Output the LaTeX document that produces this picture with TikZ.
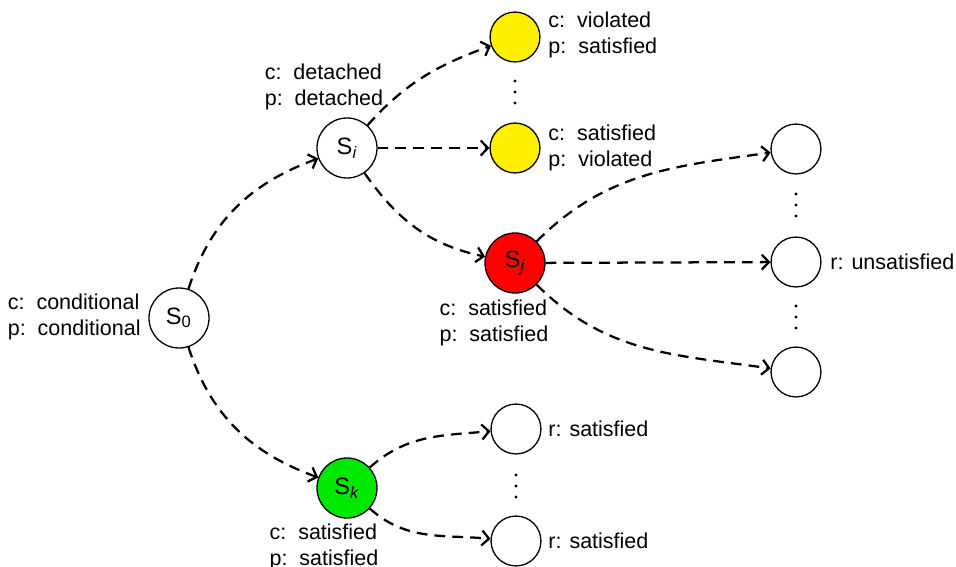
\documentclass[tikz,border=0pt]{standalone}
\usepackage{fontspec}
\setmainfont{Liberation Sans}
\usetikzlibrary{positioning,arrows.meta}

\definecolor{stateyellow}{RGB}{255,240,0}
\definecolor{statered}{RGB}{255,0,0}
\definecolor{stategreen}{RGB}{0,232,0}

\begin{document}
\begin{tikzpicture}[x=0.465pt,y=-0.465pt,
		state/.style={circle,draw,line width=0.6pt,minimum size=27.9pt,inner sep=0pt,font=\fontsize{11}{12}\selectfont},
		leaf/.style={circle,draw,line width=0.6pt,minimum size=23.2pt,inner sep=0pt},
		lbl/.style={align=left,inner sep=0pt,font=\fontsize{10}{12.4}\selectfont},
		dotmark/.style={circle,fill,inner sep=0pt,minimum size=1.5pt},
		trans/.style={line width=1.05pt,dash pattern=on 5pt off 3.3pt,-{Straight Barb[length=3.3pt,width=7pt]}}]
	\useasboundingbox (0,0) rectangle (956,567);
	
	% trạng thái chính
	\node[state] (s0) at (179,318) {S\textsubscript{0}};
	\node[state] (si) at (347,148) {S\textsubscript{\itshape i}};
	\node[state,fill=statered] (sj) at (515,263) {S\textsubscript{\itshape j}};
	\node[state,fill=stategreen] (sk) at (347,488) {S\textsubscript{\itshape k}};
	
	% các lá
	\node[leaf,fill=stateyellow] (y1) at (515,37) {};
	\node[leaf,fill=stateyellow] (y2) at (515,148) {};
	\node[leaf] (r1) at (796,149) {};
	\node[leaf] (r2) at (796,262) {};
	\node[leaf] (r3) at (796,372) {};
	\node[leaf] (b1) at (516,429) {};
	\node[leaf] (b2) at (516,541) {};
	
	% dấu chấm dọc
	\foreach \x/\y [count=\k] in {515/92, 796/205, 796/317, 516/486}
		\foreach \d in {-11,0,11}
			\node[dotmark] (dot\k\d) at (\x,\y+\d) {};
	
	% nhãn
	\node[lbl,anchor=east] (l0) at (141,317) {c:\ \ conditional\\p:\ \ conditional};
	\node[lbl] (li) at (324,87) {c:\ \ detached\\p:\ \ detached};
	\node[lbl,anchor=west] (ly1) at (548,35) {c:\ \ violated\\p:\ \ satisfied};
	\node[lbl,anchor=west] (ly2) at (548,148) {c:\ \ satisfied\\p:\ \ violated};
	\node[lbl] (lj) at (494,323) {c:\ \ satisfied\\p:\ \ satisfied};
	\node[lbl] (lk) at (324,547) {c:\ \ satisfied\\p:\ \ satisfied};
	\node[lbl,anchor=west] (lr2) at (830,262) {r: unsatisfied};
	\node[lbl,anchor=west] (lb1) at (548,429) {r: satisfied};
	\node[lbl,anchor=west] (lb2) at (548,541) {r: satisfied};
	
	% chuyển trạng thái
	\draw[trans] (s0) to[out=72,in=200] (si);
	\draw[trans] (s0) to[out=-72,in=160] (sk);
	\draw[trans] (si) to[out=48,in=200] (y1);
	\draw[trans] (si) -- (y2);
	\draw[trans] (si) to[out=-55,in=168] (sj);
	\draw[trans] (sj) to[out=45,in=188] (r1);
	\draw[trans] (sj) -- (r2);
	\draw[trans] (sj) to[out=-45,in=172] (r3);
	\draw[trans] (sk) to[out=42,in=185] (b1);
	\draw[trans] (sk) to[out=-42,in=175] (b2);
\end{tikzpicture}
\end{document}
